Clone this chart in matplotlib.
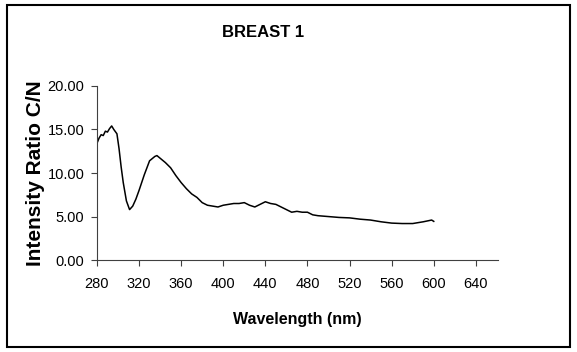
import matplotlib
matplotlib.use("Agg")
import matplotlib.pyplot as plt
from matplotlib.patches import Rectangle

plt.rcParams['font.family'] = ['Liberation Sans', 'DejaVu Sans']

# wavelength (nm) and intensity ratio C/N
wavelength = [280, 282, 284, 286, 288, 290, 292, 294, 296, 299, 301, 303, 305,
              308, 311, 314, 317, 320, 325, 330, 335, 337, 340, 345, 350, 355,
              360, 365, 370, 375, 380, 385, 390, 395, 400, 405, 410, 415, 420,
              425, 430, 435, 440, 445, 450, 455, 460, 465, 470, 475, 480, 485,
              490, 500, 510, 520, 530, 540, 550, 560, 570, 580, 590, 598, 600]
ratio = [13.4, 14.0, 14.4, 14.3, 14.8, 14.7, 15.1, 15.4, 15.0, 14.5, 12.8,
         10.7, 8.9, 6.8, 5.8, 6.2, 7.0, 8.0, 9.8, 11.4, 11.9, 12.0, 11.7, 11.2,
         10.6, 9.7, 8.9, 8.2, 7.6, 7.2, 6.6, 6.3, 6.2, 6.1, 6.3, 6.4, 6.5, 6.5,
         6.6, 6.3, 6.1, 6.4, 6.7, 6.5, 6.4, 6.1, 5.8, 5.5, 5.6, 5.5, 5.5, 5.2,
         5.1, 5.0, 4.9, 4.85, 4.7, 4.6, 4.4, 4.25, 4.2, 4.2, 4.4, 4.6, 4.45]

xticks = [280, 320, 360, 400, 440, 480, 520, 560, 600, 640]
yticks = [0, 5, 10, 15, 20]

fig = plt.figure(figsize=(5.77, 3.52), dpi=100)
ax = fig.add_axes([0.168, 0.261, 0.695, 0.495])
ax.plot(wavelength, ratio, color='black', lw=1.1)

ax.set_xlim(280, 661)
ax.set_ylim(0, 20)
ax.set_xticks(xticks)
ax.set_yticks(yticks)
ax.set_yticklabels(['%.2f' % v for v in yticks])
ax.tick_params(axis='both', direction='out', length=4, width=0.8,
               color='#404040', labelsize=10.5, pad=5)
ax.tick_params(axis='x', pad=8)
for s in ['top', 'right']:
    ax.spines[s].set_visible(False)
for s in ['left', 'bottom']:
    ax.spines[s].set_color('#404040')
    ax.spines[s].set_linewidth(0.8)

fig.text(0.456, 0.909, 'BREAST 1', ha='center', va='center',
         fontsize=12, fontweight='bold')
fig.text(0.516, 0.091, 'Wavelength (nm)', ha='center', va='center',
         fontsize=11.5, fontweight='bold')
fig.text(0.061, 0.507, 'Intensity Ratio C/N', ha='center', va='center',
         rotation=90, fontsize=15, fontweight='bold')

fig.patches.append(Rectangle((7 / 577, 5 / 352), 563 / 577, 342 / 352,
                             transform=fig.transFigure, fill=False,
                             edgecolor='black', lw=1.5))

fig.savefig('out.png', dpi=100)
